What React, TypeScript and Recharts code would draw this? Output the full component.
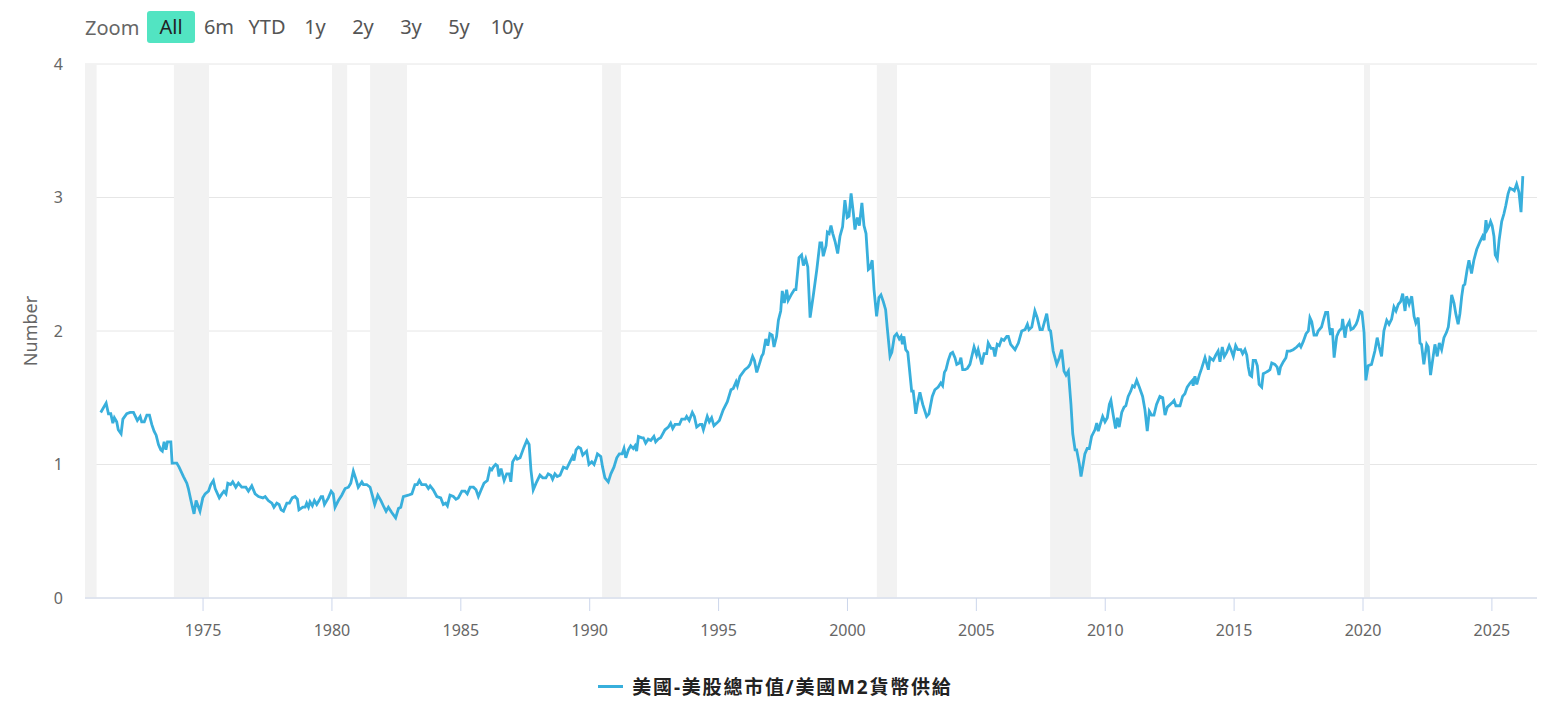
import React from "react"
import { LineChart, Line, XAxis, YAxis, CartesianGrid, ReferenceArea, Legend } from "recharts"

// decimal year of each reading
const time = [
  1971.03, 1971.24, 1971.33, 1971.42, 1971.50, 1971.56, 1971.65, 1971.71, 1971.82, 1971.89,
  1972.04, 1972.17, 1972.30, 1972.45, 1972.56, 1972.62, 1972.72, 1972.82, 1972.92, 1973.01,
  1973.10, 1973.18, 1973.27, 1973.36, 1973.42, 1973.49, 1973.56, 1973.62, 1973.75, 1973.80,
  1973.98, 1974.07, 1974.24, 1974.37, 1974.43, 1974.53, 1974.65, 1974.73, 1974.88, 1974.99,
  1975.08, 1975.21, 1975.30, 1975.40, 1975.47, 1975.63, 1975.73, 1975.81, 1975.89, 1975.96,
  1976.07, 1976.15, 1976.27, 1976.37, 1976.50, 1976.66, 1976.76, 1976.89, 1977.02, 1977.15,
  1977.32, 1977.41, 1977.53, 1977.67, 1977.75, 1977.86, 1977.95, 1978.03, 1978.12, 1978.25,
  1978.35, 1978.46, 1978.57, 1978.66, 1978.72, 1978.87, 1978.96, 1979.02, 1979.09, 1979.15,
  1979.24, 1979.32, 1979.41, 1979.50, 1979.58, 1979.64, 1979.71, 1979.86, 1979.97, 1980.05,
  1980.12, 1980.25, 1980.38, 1980.51, 1980.64, 1980.73, 1980.83, 1980.93, 1981.02, 1981.16,
  1981.22, 1981.35, 1981.48, 1981.58, 1981.66, 1981.78, 1981.90, 1982.02, 1982.10, 1982.19,
  1982.32, 1982.47, 1982.58, 1982.67, 1982.77, 1982.96, 1983.10, 1983.22, 1983.31, 1983.39,
  1983.48, 1983.64, 1983.74, 1983.81, 1983.93, 1984.07, 1984.22, 1984.32, 1984.41, 1984.48,
  1984.58, 1984.71, 1984.81, 1984.90, 1985.04, 1985.16, 1985.25, 1985.36, 1985.49, 1985.59,
  1985.68, 1985.81, 1985.90, 1986.03, 1986.13, 1986.20, 1986.26, 1986.35, 1986.42, 1986.48,
  1986.56, 1986.68, 1986.78, 1986.88, 1986.94, 1987.01, 1987.13, 1987.19, 1987.30, 1987.45,
  1987.56, 1987.65, 1987.72, 1987.81, 1987.92, 1988.07, 1988.18, 1988.30, 1988.39, 1988.49,
  1988.56, 1988.65, 1988.74, 1988.85, 1988.98, 1989.11, 1989.21, 1989.34, 1989.39, 1989.47,
  1989.56, 1989.65, 1989.73, 1989.88, 1989.97, 1990.08, 1990.17, 1990.24, 1990.30, 1990.43,
  1990.50, 1990.59, 1990.72, 1990.82, 1990.94, 1991.05, 1991.15, 1991.26, 1991.33, 1991.40,
  1991.50, 1991.59, 1991.69, 1991.76, 1991.82, 1991.89, 1992.02, 1992.08, 1992.17, 1992.27,
  1992.37, 1992.49, 1992.56, 1992.66, 1992.75, 1992.92, 1993.05, 1993.14, 1993.22, 1993.31,
  1993.48, 1993.57, 1993.70, 1993.76, 1993.86, 1993.98, 1994.06, 1994.15, 1994.28, 1994.35,
  1994.41, 1994.56, 1994.64, 1994.73, 1994.82, 1994.93, 1995.03, 1995.18, 1995.34, 1995.48,
  1995.57, 1995.68, 1995.73, 1995.83, 1996.02, 1996.15, 1996.22, 1996.32, 1996.39, 1996.48,
  1996.61, 1996.67, 1996.73, 1996.83, 1996.91, 1996.99, 1997.08, 1997.15, 1997.25, 1997.32,
  1997.41, 1997.47, 1997.55, 1997.64, 1997.70, 1997.84, 1997.94, 1998.00, 1998.12, 1998.22,
  1998.29, 1998.38, 1998.46, 1998.55, 1998.67, 1998.81, 1998.93, 1999.00, 1999.06, 1999.17,
  1999.22, 1999.29, 1999.36, 1999.43, 1999.52, 1999.62, 1999.71, 1999.81, 1999.90, 1999.99,
  2000.06, 2000.14, 2000.23, 2000.29, 2000.38, 2000.46, 2000.56, 2000.64, 2000.72, 2000.81,
  2000.87, 2000.96, 2001.03, 2001.13, 2001.22, 2001.30, 2001.39, 2001.48, 2001.54, 2001.65,
  2001.72, 2001.82, 2001.91, 2002.01, 2002.08, 2002.13, 2002.19, 2002.26, 2002.34, 2002.49,
  2002.55, 2002.65, 2002.71, 2002.81, 2002.92, 2003.07, 2003.16, 2003.29, 2003.39, 2003.52,
  2003.62, 2003.69, 2003.76, 2003.82, 2003.91, 2004.00, 2004.08, 2004.17, 2004.24, 2004.34,
  2004.40, 2004.47, 2004.56, 2004.65, 2004.75, 2004.91, 2005.01, 2005.07, 2005.21, 2005.30,
  2005.40, 2005.46, 2005.57, 2005.66, 2005.72, 2005.81, 2005.89, 2005.98, 2006.07, 2006.18,
  2006.24, 2006.33, 2006.50, 2006.63, 2006.76, 2006.89, 2006.98, 2007.04, 2007.15, 2007.27,
  2007.36, 2007.47, 2007.56, 2007.73, 2007.82, 2007.88, 2007.98, 2008.12, 2008.22, 2008.31,
  2008.40, 2008.48, 2008.57, 2008.67, 2008.74, 2008.83, 2008.89, 2008.99, 2009.06, 2009.15,
  2009.21, 2009.30, 2009.38, 2009.47, 2009.60, 2009.67, 2009.73, 2009.82, 2009.90, 2009.99,
  2010.08, 2010.16, 2010.22, 2010.31, 2010.40, 2010.47, 2010.54, 2010.64, 2010.73, 2010.80,
  2010.89, 2010.99, 2011.06, 2011.13, 2011.22, 2011.32, 2011.45, 2011.54, 2011.63, 2011.71,
  2011.80, 2011.89, 2011.99, 2012.12, 2012.23, 2012.32, 2012.41, 2012.58, 2012.67, 2012.74,
  2012.90, 2013.00, 2013.09, 2013.18, 2013.29, 2013.38, 2013.41, 2013.48, 2013.55, 2013.65,
  2013.74, 2013.87, 2013.93, 2014.00, 2014.06, 2014.19, 2014.29, 2014.38, 2014.45, 2014.54,
  2014.62, 2014.71, 2014.81, 2014.88, 2014.97, 2015.06, 2015.14, 2015.26, 2015.33, 2015.42,
  2015.49, 2015.55, 2015.61, 2015.68, 2015.74, 2015.83, 2015.90, 2015.97, 2016.07, 2016.13,
  2016.23, 2016.32, 2016.39, 2016.46, 2016.58, 2016.67, 2016.74, 2016.80, 2016.91, 2017.01,
  2017.06, 2017.17, 2017.29, 2017.43, 2017.53, 2017.59, 2017.68, 2017.79, 2017.88, 2017.94,
  2018.01, 2018.10, 2018.20, 2018.26, 2018.39, 2018.46, 2018.55, 2018.63, 2018.69, 2018.74,
  2018.81, 2018.88, 2018.98, 2019.07, 2019.17, 2019.21, 2019.30, 2019.36, 2019.47, 2019.53,
  2019.62, 2019.73, 2019.79, 2019.88, 2019.96, 2020.04, 2020.11, 2020.20, 2020.33, 2020.46,
  2020.55, 2020.63, 2020.72, 2020.81, 2020.92, 2021.01, 2021.11, 2021.20, 2021.28, 2021.37,
  2021.46, 2021.54, 2021.63, 2021.69, 2021.79, 2021.89, 2021.98, 2022.05, 2022.14, 2022.21,
  2022.27, 2022.36, 2022.47, 2022.53, 2022.62, 2022.70, 2022.79, 2022.88, 2022.96, 2023.05,
  2023.14, 2023.24, 2023.31, 2023.37, 2023.44, 2023.53, 2023.60, 2023.69, 2023.76, 2023.83,
  2023.89, 2023.95, 2024.04, 2024.11, 2024.21, 2024.30, 2024.41, 2024.54, 2024.64, 2024.70,
  2024.77, 2024.82, 2024.90, 2024.95, 2025.01, 2025.08, 2025.13, 2025.21, 2025.28, 2025.38,
  2025.47, 2025.54, 2025.63, 2025.70, 2025.80, 2025.87, 2025.96, 2026.05, 2026.13, 2026.20,
]

// 美股總市值 / M2
const ratio = [
  1.39, 1.46, 1.38, 1.38, 1.31, 1.35, 1.32, 1.26, 1.23, 1.34,
  1.38, 1.39, 1.39, 1.33, 1.36, 1.32, 1.32, 1.37, 1.37, 1.30,
  1.25, 1.22, 1.15, 1.11, 1.10, 1.17, 1.11, 1.17, 1.17, 1.01,
  1.01, 0.98, 0.91, 0.86, 0.82, 0.73, 0.63, 0.73, 0.65, 0.75,
  0.78, 0.80, 0.85, 0.88, 0.82, 0.75, 0.78, 0.80, 0.78, 0.86,
  0.85, 0.87, 0.83, 0.86, 0.83, 0.83, 0.80, 0.84, 0.78, 0.76,
  0.75, 0.76, 0.73, 0.71, 0.68, 0.71, 0.70, 0.66, 0.65, 0.71,
  0.71, 0.75, 0.76, 0.74, 0.66, 0.68, 0.68, 0.71, 0.68, 0.72,
  0.69, 0.73, 0.70, 0.73, 0.76, 0.76, 0.70, 0.75, 0.80, 0.78,
  0.68, 0.73, 0.77, 0.82, 0.83, 0.86, 0.95, 0.89, 0.83, 0.87,
  0.85, 0.85, 0.83, 0.76, 0.70, 0.77, 0.73, 0.68, 0.65, 0.68,
  0.64, 0.60, 0.67, 0.68, 0.76, 0.77, 0.78, 0.85, 0.85, 0.88,
  0.85, 0.85, 0.82, 0.84, 0.81, 0.76, 0.75, 0.70, 0.71, 0.69,
  0.77, 0.76, 0.74, 0.75, 0.80, 0.80, 0.78, 0.83, 0.83, 0.81,
  0.76, 0.82, 0.86, 0.88, 0.97, 0.96, 0.98, 1.00, 0.99, 0.91,
  0.97, 0.88, 0.93, 0.93, 0.87, 1.02, 1.06, 1.04, 1.05, 1.13,
  1.18, 1.15, 0.96, 0.81, 0.86, 0.92, 0.90, 0.90, 0.93, 0.92,
  0.89, 0.93, 0.91, 0.92, 0.98, 0.97, 1.01, 1.06, 1.03, 1.11,
  1.13, 1.12, 1.07, 1.10, 1.00, 1.02, 1.00, 1.04, 1.08, 1.06,
  0.98, 0.90, 0.87, 0.93, 0.98, 1.05, 1.08, 1.08, 1.12, 1.05,
  1.11, 1.14, 1.12, 1.14, 1.10, 1.21, 1.20, 1.20, 1.16, 1.19,
  1.18, 1.21, 1.17, 1.19, 1.20, 1.26, 1.28, 1.31, 1.27, 1.30,
  1.30, 1.34, 1.34, 1.36, 1.33, 1.39, 1.36, 1.28, 1.30, 1.30,
  1.26, 1.36, 1.32, 1.35, 1.29, 1.31, 1.33, 1.41, 1.47, 1.56,
  1.57, 1.62, 1.59, 1.66, 1.71, 1.73, 1.75, 1.81, 1.78, 1.69,
  1.77, 1.81, 1.83, 1.94, 1.89, 1.98, 1.97, 1.88, 1.96, 2.08,
  2.15, 2.30, 2.21, 2.31, 2.23, 2.28, 2.31, 2.31, 2.55, 2.57,
  2.49, 2.54, 2.48, 2.10, 2.26, 2.46, 2.66, 2.66, 2.56, 2.64,
  2.74, 2.73, 2.79, 2.73, 2.67, 2.58, 2.71, 2.78, 2.98, 2.85,
  2.86, 3.03, 2.88, 2.76, 2.85, 2.79, 2.96, 2.79, 2.73, 2.46,
  2.47, 2.53, 2.31, 2.11, 2.25, 2.27, 2.22, 2.16, 2.03, 1.81,
  1.84, 1.96, 1.98, 1.94, 1.96, 1.90, 1.96, 1.86, 1.84, 1.55,
  1.55, 1.38, 1.45, 1.54, 1.45, 1.36, 1.38, 1.51, 1.56, 1.58,
  1.61, 1.59, 1.69, 1.71, 1.78, 1.83, 1.84, 1.80, 1.75, 1.76,
  1.80, 1.71, 1.71, 1.72, 1.75, 1.88, 1.82, 1.86, 1.75, 1.83,
  1.83, 1.91, 1.87, 1.87, 1.81, 1.90, 1.89, 1.94, 1.93, 1.96,
  1.96, 1.90, 1.86, 1.91, 2.00, 2.01, 2.05, 2.01, 2.03, 2.15,
  2.10, 2.01, 2.01, 2.13, 2.01, 2.00, 1.85, 1.75, 1.80, 1.86,
  1.70, 1.67, 1.70, 1.45, 1.23, 1.11, 1.11, 1.01, 0.91, 1.01,
  1.08, 1.12, 1.12, 1.21, 1.26, 1.31, 1.25, 1.31, 1.36, 1.32,
  1.35, 1.45, 1.48, 1.37, 1.27, 1.35, 1.28, 1.39, 1.43, 1.44,
  1.51, 1.55, 1.59, 1.58, 1.63, 1.58, 1.51, 1.41, 1.25, 1.40,
  1.37, 1.37, 1.45, 1.51, 1.50, 1.37, 1.43, 1.46, 1.48, 1.44,
  1.44, 1.51, 1.53, 1.58, 1.61, 1.63, 1.59, 1.66, 1.60, 1.67,
  1.72, 1.80, 1.76, 1.71, 1.80, 1.78, 1.82, 1.85, 1.77, 1.88,
  1.81, 1.84, 1.89, 1.86, 1.81, 1.89, 1.86, 1.86, 1.83, 1.86,
  1.82, 1.73, 1.67, 1.66, 1.78, 1.78, 1.74, 1.60, 1.58, 1.68,
  1.69, 1.70, 1.71, 1.76, 1.75, 1.73, 1.67, 1.73, 1.77, 1.80,
  1.85, 1.85, 1.86, 1.88, 1.90, 1.88, 1.92, 1.98, 2.00, 2.10,
  2.07, 1.97, 1.97, 2.00, 2.03, 2.08, 2.14, 2.14, 2.03, 1.97,
  2.02, 1.80, 1.96, 2.00, 2.02, 2.09, 1.95, 2.03, 2.07, 2.01,
  2.02, 2.05, 2.08, 2.15, 2.14, 1.99, 1.63, 1.74, 1.75, 1.85,
  1.95, 1.88, 1.81, 2.00, 2.08, 2.05, 2.09, 2.18, 2.15, 2.20,
  2.22, 2.28, 2.15, 2.26, 2.20, 2.26, 2.11, 2.06, 2.10, 1.91,
  1.90, 1.75, 1.90, 1.88, 1.67, 1.78, 1.90, 1.81, 1.91, 1.86,
  1.95, 1.99, 2.03, 2.13, 2.27, 2.21, 2.13, 2.05, 2.13, 2.26,
  2.34, 2.35, 2.46, 2.53, 2.43, 2.53, 2.61, 2.67, 2.71, 2.68,
  2.83, 2.76, 2.79, 2.82, 2.79, 2.71, 2.57, 2.54, 2.68, 2.82,
  2.88, 2.94, 3.03, 3.07, 3.06, 3.05, 3.10, 3.04, 2.89, 3.16,
]

const yearTicks = [1975, 1980, 1985, 1990, 1995, 2000, 2005, 2010, 2015, 2020, 2025]
const valueTicks = [0, 1, 2, 3, 4]

// recession bands, start / end in decimal years
const recessionStart = [1969.92, 1973.87, 1980.0, 1981.48, 1990.48, 2001.14, 2007.86, 2020.04]
const recessionEnd = [1970.87, 1975.23, 1980.59, 1982.91, 1991.21, 2001.92, 2009.45, 2020.27]

const rangeButtons = ["All", "6m", "YTD", "1y", "2y", "3y", "5y", "10y"]
const seriesName = "美國-美股總市值/美國M2貨幣供給"

const xDomain = [1970.42, 2026.75]
const lineColor = "#38afdc"
const font = "'Noto Sans', 'Noto Sans CJK TC', sans-serif"

const data = time.map((t, i) => ({ t, ratio: ratio[i] }))

function RangeSelector() {
  return (
    <div style={{ position: "absolute", top: 11, left: 85, display: "flex", alignItems: "center", height: 32, fontSize: 20, fontFamily: font }}>
      <span style={{ color: "#666", width: 62 }}>Zoom</span>
      {rangeButtons.map((b, i) => (
        <div
          key={b}
          style={{
            width: 48,
            height: 32,
            lineHeight: "32px",
            textAlign: "center",
            borderRadius: 3,
            background: i === 0 ? "#52e4c2" : "transparent",
            color: i === 0 ? "#222" : "#555",
          }}
        >
          {b}
        </div>
      ))}
    </div>
  )
}

function LegendBox() {
  return (
    <div style={{ display: "flex", justifyContent: "center", alignItems: "center", height: 28, paddingRight: 6, fontFamily: font }}>
      <span style={{ display: "inline-block", width: 25, height: 3, background: lineColor, marginRight: 9 }} />
      <span style={{ fontSize: 19, fontWeight: 700, color: "#222", letterSpacing: 1.8 }}>{seriesName}</span>
    </div>
  )
}

export default function App() {
  return (
    <div style={{ position: "absolute", left: 0, top: 0, width: 1557, height: 714, background: "#fff", fontFamily: font }}>
      <RangeSelector />
      <LineChart width={1557} height={714} data={data} margin={{ top: 64, right: 20, bottom: 86, left: 25 }}>
        <CartesianGrid horizontal vertical={false} stroke="#e6e6e6" />
        {recessionStart.map((s, i) => (
          <ReferenceArea
            key={i}
            x1={Math.max(s, xDomain[0])}
            x2={recessionEnd[i]}
            fill="#f2f2f2"
            fillOpacity={1}
            stroke="none"
            ifOverflow="hidden"
          />
        ))}
        <XAxis
          type="number"
          dataKey="t"
          domain={xDomain}
          ticks={yearTicks}
          allowDataOverflow
          height={30}
          tickFormatter={(v) => String(v)}
          tick={{ fill: "#666", fontSize: 16 }}
          axisLine={{ stroke: "#ccd6eb" }}
          tickLine={{ stroke: "#ccd6eb" }}
          tickSize={13}
          tickMargin={14}
        />
        <YAxis
          domain={[0, 4]}
          ticks={valueTicks}
          width={60}
          axisLine={false}
          tickLine={false}
          tickSize={0}
          tickMargin={22}
          tick={{ fill: "#666", fontSize: 16 }}
          label={{ value: "Number", angle: -90, position: "insideLeft", offset: 6, fill: "#666", fontSize: 18, style: { textAnchor: "middle" } }}
        />
        <Line
          type="linear"
          dataKey="ratio"
          name={seriesName}
          stroke={lineColor}
          strokeWidth={2.8}
          dot={false}
          isAnimationActive={false}
        />
        <Legend
          layout="horizontal"
          verticalAlign="middle"
          align="center"
          wrapperStyle={{ top: 672, left: 0, width: 1557 }}
          content={() => <LegendBox />}
        />
      </LineChart>
    </div>
  )
}
